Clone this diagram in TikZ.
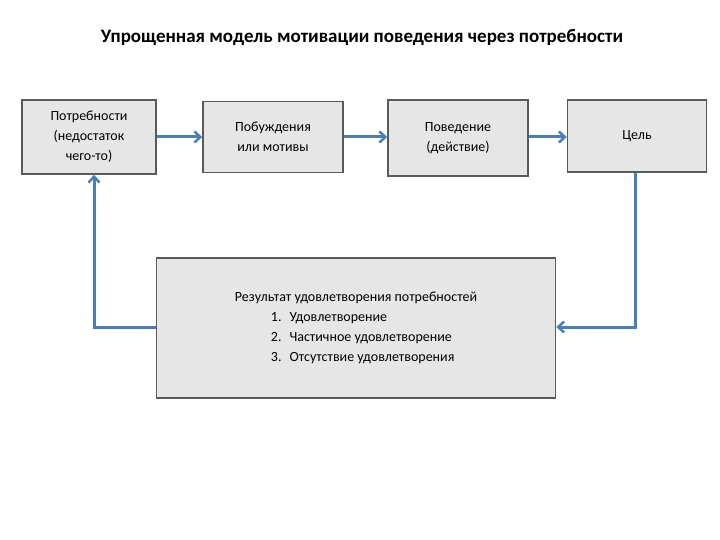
\documentclass[tikz,border=0pt]{standalone}
\usepackage{fontspec}
\setmainfont{Carlito}
\usetikzlibrary{arrows.meta}
\definecolor{arr}{HTML}{4A7EBB}
\definecolor{bfill}{HTML}{E6E6E6}
\definecolor{bdraw}{HTML}{5A5A5A}
\tikzset{box/.style={draw=bdraw,line width=1.5pt,fill=bfill,inner sep=0pt,align=center,font=\fontsize{14}{20}\selectfont},
con/.style={draw=arr,line width=3pt,-{Straight Barb[length=6pt,width=11pt,line width=2.5pt]}}}
\begin{document}
\begin{tikzpicture}[x=1pt,y=-1pt]
\useasboundingbox (0,0) rectangle (720,540);
\node[font=\bfseries\fontsize{19}{22}\selectfont] (t) at (362,37) {Упрощенная модель мотивации поведения через потребности};
\node[box,minimum width=134pt,minimum height=74pt] (a) at (89,137) {Потребности\\(недостаток\\чего-то)};
\node[box,minimum width=140pt,minimum height=71pt] (b) at (273,137) {Побуждения\\или мотивы};
\node[box,minimum width=140pt,minimum height=76pt] (c) at (458,138) {Поведение\\(действие)};
\node[box,minimum width=139pt,minimum height=72pt] (d) at (637,136) {Цель};
\node[box,minimum width=399pt,minimum height=140pt,align=left] (e) at (356,328) {Результат удовлетворения потребностей\\
\hspace*{36pt}1.\hspace{8pt}Удовлетворение\\
\hspace*{36pt}2.\hspace{8pt}Частичное удовлетворение\\
\hspace*{36pt}3.\hspace{8pt}Отсутствие удовлетворения};
\coordinate (p1) at (635,327);
\coordinate (p2) at (94,327);
\draw[con] (a.east|-0,137) -- (b.west|-0,137);
\draw[con] (b.east|-0,137) -- (c.west|-0,137);
\draw[con] (c.east|-0,137) -- (d.west|-0,137);
\draw[con] (d.south-|p1) -- (p1) -- (e.east|-p1);
\draw[con] (e.west|-p2) -- (p2) -- (a.south-|p2);
\end{tikzpicture}
\end{document}
